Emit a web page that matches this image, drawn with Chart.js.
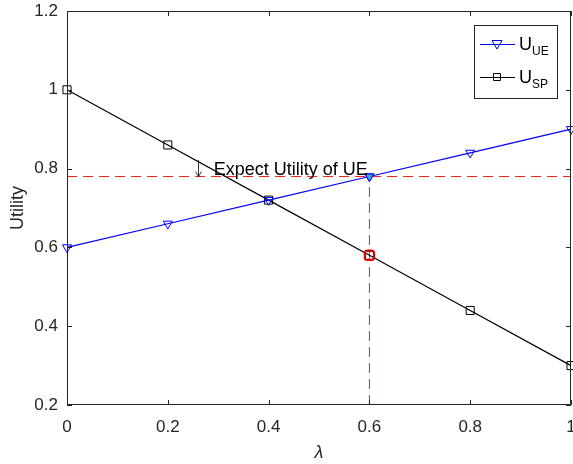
<!DOCTYPE html>
<html>
<head>
<meta charset="utf-8">
<script src="https://cdn.jsdelivr.net/npm/chart.js@4/dist/chart.umd.min.js"></script>
<style>
  html, body { margin: 0; padding: 0; background: #fff; }
  #wrap { width: 573px; height: 464px; }
</style>
</head>
<body>
<div id="wrap"><canvas id="c" width="573" height="464"></canvas></div>
<script>
// weight parameter lambda
const lambdas = [0, 0.2, 0.4, 0.6, 0.8, 1.0];
// utility of the user equipment and of the service provider
const utilityUE = [0.60, 0.66, 0.72, 0.78, 0.84, 0.90];
const utilitySP = [1.00, 0.86, 0.72, 0.58, 0.44, 0.30];
// tick values
const xTicks = [0, 0.2, 0.4, 0.6, 0.8, 1];
const yTicks = [0.2, 0.4, 0.6, 0.8, 1.0, 1.2];
// chosen operating point
const chosenLambda = 0.6;
const expectUE = 0.78;
const chosenSP = 0.58;
// annotation text and arrow
const noteText = 'Expect Utility of UE';
const noteAt = [0.291, 0.784];
const arrowFrom = [0.26, 0.822];
const arrowTo = [0.26, 0.78];

const AX = '#262626';
const FONT = '"Liberation Sans", Arial, Helvetica, sans-serif';

const toXY = (xs, ys) => xs.map((x, i) => ({ x: x, y: ys[i] }));

// box, inward ticks, annotation arrow/text and legend
const decor = {
  id: 'decor',
  afterDatasetsDraw(chart) {
    const { ctx, chartArea: a, scales: { x, y } } = chart;
    ctx.save();
    ctx.strokeStyle = AX;
    ctx.lineWidth = 1;
    ctx.beginPath();
    ctx.rect(a.left + 0.5, a.top + 0.5, a.right - a.left - 1, a.bottom - a.top - 1);
    ctx.stroke();
    const tl = 5;
    ctx.beginPath();
    xTicks.forEach(v => {
      const px = Math.round(x.getPixelForValue(v)) + 0.5;
      ctx.moveTo(px, a.bottom); ctx.lineTo(px, a.bottom - tl);
      ctx.moveTo(px, a.top); ctx.lineTo(px, a.top + tl);
    });
    yTicks.forEach(v => {
      const py = Math.round(y.getPixelForValue(v)) + 0.5;
      ctx.moveTo(a.left, py); ctx.lineTo(a.left + tl, py);
      ctx.moveTo(a.right, py); ctx.lineTo(a.right - tl, py);
    });
    ctx.stroke();

    // annotation arrow
    const ax0 = Math.round(x.getPixelForValue(arrowFrom[0])) + 0.5;
    const ay0 = y.getPixelForValue(arrowFrom[1]);
    const ay1 = y.getPixelForValue(arrowTo[1]);
    ctx.strokeStyle = '#000';
    ctx.lineWidth = 0.8;
    ctx.beginPath();
    ctx.moveTo(ax0, ay0); ctx.lineTo(ax0, ay1);
    ctx.moveTo(ax0 - 3, ay1 - 5); ctx.lineTo(ax0, ay1); ctx.lineTo(ax0 + 3, ay1 - 5);
    ctx.stroke();

    ctx.fillStyle = '#000';
    ctx.font = '18px ' + FONT;
    ctx.textBaseline = 'alphabetic';
    ctx.textAlign = 'left';
    ctx.fillText(noteText, x.getPixelForValue(noteAt[0]), y.getPixelForValue(noteAt[1]));

    // legend
    const lx = 474.5, ly = 25.5, lw = 83, lh = 73;
    ctx.fillStyle = '#fff';
    ctx.fillRect(lx, ly, lw, lh);
    ctx.strokeStyle = AX;
    ctx.lineWidth = 1;
    ctx.strokeRect(lx, ly, lw, lh);
    const rows = [
      { color: '#0000ff', marker: 'tri', main: 'U', sub: 'UE', cy: 44 },
      { color: '#000000', marker: 'sq', main: 'U', sub: 'SP', cy: 77 }
    ];
    rows.forEach(r => {
      ctx.strokeStyle = r.color;
      ctx.lineWidth = 1;
      ctx.beginPath();
      ctx.moveTo(480, r.cy + 0.5); ctx.lineTo(515, r.cy + 0.5);
      ctx.stroke();
      ctx.beginPath();
      if (r.marker === 'tri') {
        ctx.moveTo(492, r.cy - 3.5); ctx.lineTo(502, r.cy - 3.5); ctx.lineTo(497, r.cy + 5);
        ctx.closePath();
      } else {
        ctx.rect(493.5, r.cy - 3.5, 7, 7);
      }
      ctx.stroke();
      ctx.fillStyle = '#000';
      ctx.font = '18px ' + FONT;
      ctx.fillText(r.main, 519, r.cy + 6);
      ctx.font = '12px ' + FONT;
      ctx.fillText(r.sub, 532, r.cy + 11);
    });
    ctx.restore();
  }
};

new Chart(document.getElementById('c'), {
  type: 'scatter',
  data: {
    datasets: [
      {
        label: 'guide-h',
        data: toXY([0, 1], [expectUE, expectUE]),
        showLine: true, borderColor: '#ff1a1a', borderWidth: 1, borderDash: [10, 6],
        pointRadius: 0, order: 5
      },
      {
        label: 'guide-v',
        data: toXY([chosenLambda, chosenLambda], [0.2, expectUE]),
        showLine: true, borderColor: '#ff1a1a', borderWidth: 1, borderDash: [10, 6],
        pointRadius: 0, order: 5
      },
      {
        label: 'U_UE',
        data: toXY(lambdas, utilityUE),
        showLine: true, borderColor: '#0000ff', borderWidth: 1.2,
        pointStyle: 'triangle', rotation: 180, pointRadius: 5.2,
        pointBorderColor: '#0000ff', pointBackgroundColor: 'rgba(0,0,0,0)', pointBorderWidth: 1,
        order: 2
      },
      {
        label: 'U_SP',
        data: toXY(lambdas, utilitySP),
        showLine: true, borderColor: '#000000', borderWidth: 1.2,
        pointStyle: 'rect', pointRadius: 5.7, pointBorderColor: '#000',
        pointBackgroundColor: 'rgba(0,0,0,0)', pointBorderWidth: 1,
        order: 2
      },
      {
        label: 'chosen-UE',
        data: toXY([chosenLambda], [expectUE]),
        pointStyle: 'triangle', rotation: 180, pointRadius: 5.2,
        pointBorderColor: '#0000ff', pointBackgroundColor: '#3aa0e0', pointBorderWidth: 1,
        order: 1
      },
      {
        label: 'chosen-SP',
        data: toXY([chosenLambda], [chosenSP]),
        pointStyle: 'rectRounded', pointRadius: 5.5,
        pointBorderColor: '#e00000', pointBackgroundColor: 'rgba(0,0,0,0)', pointBorderWidth: 2,
        order: 1
      }
    ]
  },
  options: {
    responsive: false,
    animation: false,
    clip: false,
    layout: { autoPadding: false, padding: { top: 11, right: 2, left: 0, bottom: 0 } },
    plugins: { legend: { display: false }, tooltip: { enabled: false } },
    scales: {
      x: {
        type: 'linear', min: 0, max: 1,
        afterFit(s) { s.height = 59; s.paddingLeft = 0; s.paddingRight = 0; },
        afterBuildTicks(s) { s.ticks = xTicks.map(v => ({ value: v })); },
        grid: { display: false, drawTicks: false },
        border: { display: false },
        ticks: {
          color: AX, padding: 12, maxRotation: 0,
          font: { family: FONT, size: 17 },
          callback: v => String(+v.toFixed(1))
        },
        title: {
          display: true, text: 'λ', color: AX, padding: { top: 0, bottom: 0 },
          font: { family: FONT, size: 18, style: 'italic' }
        }
      },
      y: {
        type: 'linear', min: 0.2, max: 1.2,
        afterFit(s) { s.width = 67; s.paddingTop = 0; s.paddingBottom = 0; },
        afterBuildTicks(s) { s.ticks = yTicks.map(v => ({ value: v })); },
        grid: { display: false, drawTicks: false },
        border: { display: false },
        ticks: {
          color: AX, padding: 9,
          font: { family: FONT, size: 17 },
          callback: v => String(+v.toFixed(1))
        },
        title: {
          display: true, text: 'Utility', color: AX, padding: { top: 7, bottom: 0 },
          font: { family: FONT, size: 18 }
        }
      }
    }
  },
  plugins: [decor]
});
</script>
</body>
</html>
